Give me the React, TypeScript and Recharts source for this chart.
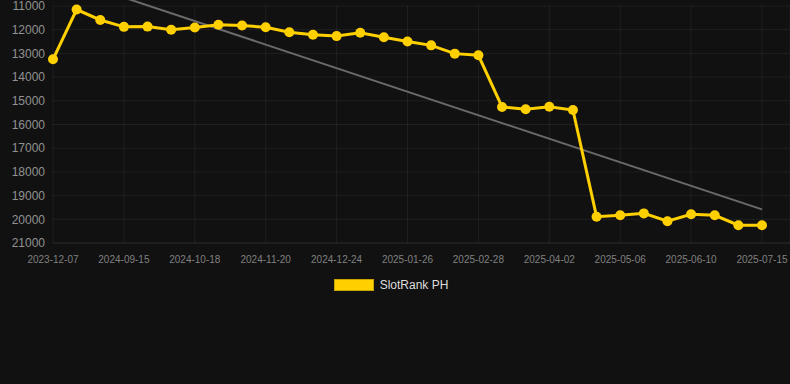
import { CartesianGrid, Line, LineChart, ReferenceLine, XAxis, YAxis } from 'recharts';

const dates = [
  '2023-12-07', '2024-08-24', '2024-09-04', '2024-09-15', '2024-09-26', '2024-10-07',
  '2024-10-18', '2024-10-29', '2024-11-09', '2024-11-20', '2024-12-01', '2024-12-12',
  '2024-12-24', '2025-01-04', '2025-01-15', '2025-01-26', '2025-02-06', '2025-02-17',
  '2025-02-28', '2025-03-11', '2025-03-22', '2025-04-02', '2025-04-13', '2025-04-24',
  '2025-05-06', '2025-05-17', '2025-05-28', '2025-06-10', '2025-06-21', '2025-07-03',
  '2025-07-15',
];

const ranks = [
  13250, 11150, 11590, 11880, 11870, 12000, 11910, 11790, 11820, 11900, 12110, 12210,
  12270, 12130, 12320, 12500, 12660, 13010, 13080, 15260, 15360, 15250, 15390, 19890,
  19830, 19750, 20080, 19790, 19830, 20250, 20250,
];

// trend endpoints (first and last date)
const trendStart = 9650;
const trendEnd = 19580;

const yTicks = [11000, 12000, 13000, 14000, 15000, 16000, 17000, 18000, 19000, 20000, 21000];

const seriesName = 'SlotRank PH';

const data = dates.map((date, i) => ({ date, rank: ranks[i] }));

const font = '"Liberation Sans", Arial, Helvetica, sans-serif';
const yellow = '#FFD000';

export default function App() {
  return (
    <div style={{ position: 'fixed', top: 0, left: 0, width: 790, height: 384, background: '#111111', fontFamily: font, overflow: 'hidden' }}>
      <LineChart width={790} height={384} data={data} margin={{ top: 6, right: 0, left: 0, bottom: 111 }} style={{ overflow: 'visible' }}>
        <CartesianGrid stroke="rgba(255,255,255,0.06)" />
        <XAxis
          dataKey="date"
          interval={2}
          height={30}
          padding={{ left: 0, right: 28 }}
          tick={{ fontSize: 10, fill: '#808080', fontFamily: font }}
          axisLine={{ stroke: 'rgba(255,255,255,0.07)' }}
          tickLine={false}
          tickMargin={7}
        />
        <YAxis
          reversed
          width={53}
          domain={[11000, 21000]}
          ticks={yTicks}
          interval={0}
          tick={{ fontSize: 12, fill: '#929292', fontFamily: font }}
          axisLine={false}
          tickLine={false}
        />
        <ReferenceLine
          segment={[
            { x: dates[0], y: trendStart },
            { x: dates[dates.length - 1], y: trendEnd },
          ]}
          stroke="#6a6a6a"
          strokeWidth={2}
          ifOverflow="visible"
        />
        <Line
          type="linear"
          dataKey="rank"
          name={seriesName}
          stroke={yellow}
          strokeWidth={3}
          dot={{ r: 5, fill: yellow, stroke: yellow, strokeWidth: 0 }}
          isAnimationActive={false}
        />
      </LineChart>
      <div style={{ position: 'absolute', top: 278, left: 0, width: 790, display: 'flex', justifyContent: 'center', alignItems: 'center' }}>
        <span style={{ display: 'inline-block', width: 38, height: 10, background: yellow, border: '1px solid #c9a400', marginRight: 6, marginLeft: -8 }} />
        <span style={{ fontSize: 12, color: '#dddddd' }}>{seriesName}</span>
      </div>
    </div>
  );
}
